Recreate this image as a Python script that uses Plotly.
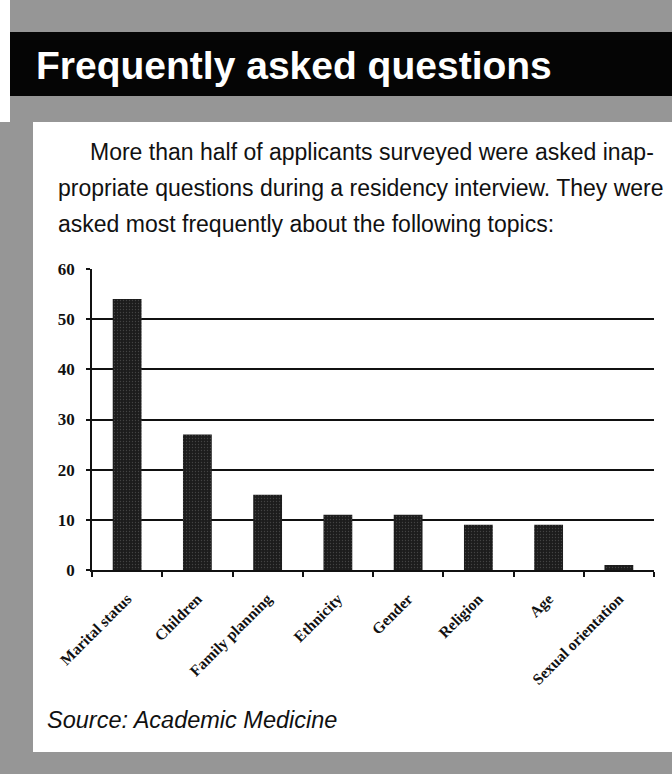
import plotly.graph_objects as go

W, H = 672, 774

categories = ["Marital status", "Children", "Family planning", "Ethnicity",
              "Gender", "Religion", "Age", "Sexual orientation"]
values = [54, 27, 15, 11, 11, 9, 9, 1]
y_ticks = [0, 10, 20, 30, 40, 50, 60]

title_text = "Frequently asked questions"
para_lines = [
    "More than half of applicants surveyed were asked inap-",
    "propriate questions during a residency interview. They were",
    "asked most frequently about the following topics:",
]
source_text = "Source: Academic Medicine"

GRAY = "#969696"


def px(x):
    return x / W


def py(y):
    return 1 - y / H


fig = go.Figure()
fig.add_trace(go.Bar(
    x=categories, y=values,
    marker=dict(color="#1c1c1c", line=dict(width=0),
                pattern=dict(shape=".", fgcolor="#6a6a6a", bgcolor="#1c1c1c",
                             size=3, solidity=0.15)),
    hoverinfo="x+y",
))

shapes = [
    dict(type="rect", xref="paper", yref="paper", x0=px(10), x1=1, y0=py(0), y1=py(32),
         fillcolor=GRAY, line=dict(width=0), layer="below"),
    dict(type="rect", xref="paper", yref="paper", x0=px(10), x1=1, y0=py(32), y1=py(96),
         fillcolor="#050505", line=dict(width=0), layer="below"),
    dict(type="rect", xref="paper", yref="paper", x0=px(10), x1=1, y0=py(96), y1=py(122),
         fillcolor=GRAY, line=dict(width=0), layer="below"),
    dict(type="rect", xref="paper", yref="paper", x0=0, x1=px(33), y0=py(122), y1=0,
         fillcolor=GRAY, line=dict(width=0), layer="below"),
    dict(type="rect", xref="paper", yref="paper", x0=0, x1=1, y0=py(752), y1=0,
         fillcolor=GRAY, line=dict(width=0), layer="below"),
]

SANS = "Liberation Sans, Arial, sans-serif"
SERIF = "Liberation Serif, Times New Roman, serif"

annotations = [
    dict(text="<b>" + title_text + "</b>", xref="paper", yref="paper",
         x=px(34), y=py(65), xanchor="left", yanchor="middle", showarrow=False,
         font=dict(family=SANS, size=39, color="white")),
]
para_x = [88, 56, 56]
para_y = [152, 188, 224]
for t, xx, yy in zip(para_lines, para_x, para_y):
    annotations.append(dict(text=t, xref="paper", yref="paper", x=px(xx), y=py(yy),
                            xanchor="left", yanchor="middle", showarrow=False,
                            font=dict(family=SANS, size=23, color="#111")))
annotations.append(dict(text="<i>" + source_text + "</i>", xref="paper", yref="paper",
                        x=px(45), y=py(720), xanchor="left", yanchor="middle",
                        showarrow=False,
                        font=dict(family=SANS, size=23.5, color="#111")))

fig.update_layout(
    width=W, height=H,
    margin=dict(l=0, r=0, t=0, b=0, pad=0),
    paper_bgcolor="white", plot_bgcolor="white",
    showlegend=False,
    bargap=0.59,
    shapes=shapes,
    annotations=annotations,
    xaxis=dict(domain=[px(92), px(654)], type="category", automargin=False,
               showgrid=False, showline=True, linecolor="#111", linewidth=1.5,
               ticks="outside", ticklen=5, tickcolor="#111", tickwidth=1.5,
               tickson="boundaries", tickangle=-45, ticklabelstandoff=12,
               tickvals=categories,
               ticktext=["<b>" + c + "</b>" for c in categories],
               tickfont=dict(family=SERIF, size=15.5, color="#111"),
               fixedrange=True),
    yaxis=dict(domain=[py(570), py(269)], range=[0, 60], automargin=False,
               tickvals=y_ticks, ticktext=["<b>%d</b>" % v for v in y_ticks],
               showgrid=True, gridcolor="#111", gridwidth=2,
               showline=True, linecolor="#111", linewidth=1.5,
               ticks="outside", ticklen=4, tickcolor="#111", tickwidth=1.5,
               ticklabelstandoff=8,
               tickfont=dict(family=SERIF, size=17, color="#111"),
               zeroline=False, fixedrange=True),
)

fig.write_html("out.html")
